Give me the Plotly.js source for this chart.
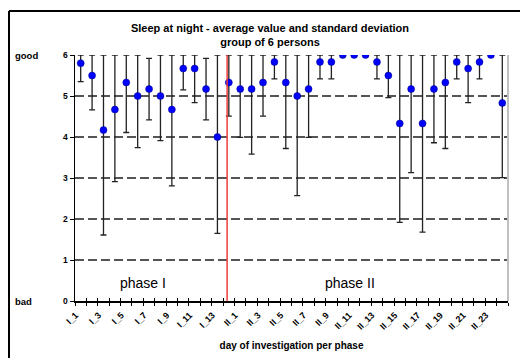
<!DOCTYPE html>
<html><head><meta charset="utf-8">
<script src="https://cdn.plot.ly/plotly-3.0.1.min.js"></script>
<style>html,body{margin:0;padding:0;background:#fff}#chart{width:520px;height:358px}</style>
</head><body><div id="chart"></div>
<script>
// ---- data ----
const categories = ['I_1','I_2','I_3','I_4','I_5','I_6','I_7','I_8','I_9','I_10','I_11','I_12','I_13','I_14',
  'II_1','II_2','II_3','II_4','II_5','II_6','II_7','II_8','II_9','II_10','II_11','II_12','II_13','II_14',
  'II_15','II_16','II_17','II_18','II_19','II_20','II_21','II_22','II_23','II_24'];
const means = [5.8, 5.5, 4.17, 4.67, 5.33, 5.0, 5.17, 5.0, 4.67, 5.67, 5.67, 5.17, 4.0, 5.33,
  5.17, 5.17, 5.33, 5.83, 5.33, 5.0, 5.17, 5.83, 5.83, 6, 6, 6, 5.83, 5.5,
  4.33, 5.17, 4.33, 5.17, 5.33, 5.83, 5.67, 5.83, 6, 4.83];
const stdDevs = [0.45, 0.84, 2.56, 1.76, 1.22, 1.26, 0.75, 1.09, 1.86, 0.52, 0.83, 0.75, 2.35, 0.82,
  1.18, 1.59, 0.82, 0.41, 1.61, 2.43, 1.18, 0.41, 0.41, 0, 0, 0, 0.41, 0.54,
  2.41, 2.04, 2.65, 1.31, 1.61, 0.41, 0.83, 0.41, 0, 1.82];
const yTickVals = [0, 1, 2, 3, 4, 5, 6];
const yTickText = ['0', '1', '2', '3', '4', '5', '6'];
const scaleLabels = {bad: 0, good: 6};
const phaseLabels = ['phase I', 'phase II'];
const phaseStartCategory = 'I_14';
const yMax = 6;

// ---- derived ----
const tickText = categories.map((c, i) => (i % 2 === 0 ? c : ''));
const errPlus = stdDevs.map((s, i) => Math.min(s, yMax - means[i]));
const FONT = 'Arial, "Liberation Sans", sans-serif';

const traces = [
  {
    x: categories, y: means, type: 'scatter', mode: 'markers',
    marker: {color: '#0000ff', size: 7, line: {color: '#000080', width: 0.5}},
    error_y: {type: 'data', symmetric: false, array: errPlus, arrayminus: stdDevs,
      color: '#222', thickness: 1.3, width: 3},
    showlegend: false, hoverinfo: 'x+y'
  },
  {
    x: categories, y: means, xaxis: 'x2', yaxis: 'y', type: 'scatter', mode: 'none',
    showlegend: false, hoverinfo: 'skip'
  }
];

const L = 75, R = 12, T = 55, B = 57, W = 520, H = 358;
const pw = W - L - R, ph = H - T - B;
const px = v => (v - L) / pw;          // pixel -> paper x
const py = v => (H - B - v) / ph;      // pixel -> paper y
const boundaryX = categories.indexOf(phaseStartCategory) - 0.15;

const layout = {
  width: W, height: H,
  margin: {l: L, r: R, t: T, b: B},
  paper_bgcolor: '#fff', plot_bgcolor: '#fff',
  font: {family: FONT, color: '#000'},
  title: {
    text: 'Sleep at night - average value and standard deviation<br>group of 6 persons',
    font: {family: FONT, size: 11, weight: 'bold', color: '#000'},
    xref: 'container', x: 270 / W, xanchor: 'center',
    yref: 'container', y: 1 - 32 / H, yanchor: 'top'
  },
  xaxis: {
    type: 'category', range: [-0.5, categories.length - 0.5],
    tickvals: categories, ticktext: tickText, tickangle: -45,
    tickson: 'boundaries', ticks: 'outside', ticklen: 3, tickcolor: '#000', tickwidth: 1,
    ticklabelstandoff: 4, ticklabelshift: -5,
    tickfont: {family: FONT, size: 9, weight: 'bold', color: '#000'},
    showline: true, linecolor: '#000', linewidth: 1.5, showgrid: false, zeroline: false,
    automargin: false,
    title: {text: 'day of investigation per phase', standoff: 11,
      font: {family: FONT, size: 10, weight: 'bold', color: '#000'}}
  },
  xaxis2: {
    type: 'category', overlaying: 'x', matches: 'x', anchor: 'y', side: 'bottom',
    tickvals: categories, ticktext: categories.map(() => ''),
    tickson: 'boundaries', ticks: 'inside', ticklen: 3, tickcolor: '#000', tickwidth: 1,
    showticklabels: false, showline: false, showgrid: false, zeroline: false
  },
  yaxis: {
    range: [0, yMax], tickvals: yTickVals, ticktext: yTickText,
    ticks: 'outside', ticklen: 4, tickcolor: '#000',
    tickfont: {family: FONT, size: 8.5, weight: 'bold', color: '#000'},
    showline: true, linecolor: '#000', linewidth: 1.5,
    showgrid: true, gridcolor: '#555', gridwidth: 1.5, griddash: '9px,4px',
    zeroline: false, automargin: false, fixedrange: true
  },
  shapes: [
    {type: 'line', xref: 'x', yref: 'y', x0: boundaryX, x1: boundaryX, y0: -0.08, y1: yMax,
      line: {color: '#f03c3c', width: 1.5}, layer: 'above'},
    {type: 'line', xref: 'paper', yref: 'paper', x0: 1, x1: 1, y0: 0, y1: 1,
      line: {color: '#c0c0c0', width: 2}},
    {type: 'line', xref: 'paper', yref: 'paper', x0: px(9), x1: px(9), y0: py(11), y1: py(362),
      line: {color: '#000', width: 2}},
    {type: 'line', xref: 'paper', yref: 'paper', x0: px(9), x1: px(524), y0: py(11), y1: py(11),
      line: {color: '#000', width: 2}}
  ],
  annotations: [
    {text: 'good', xref: 'paper', x: px(13), xanchor: 'left', yref: 'y', y: scaleLabels.good,
      yanchor: 'middle', showarrow: false, font: {family: FONT, size: 9.5, weight: 'bold'}},
    {text: 'bad', xref: 'paper', x: px(13), xanchor: 'left', yref: 'y', y: scaleLabels.bad,
      yanchor: 'middle', showarrow: false, font: {family: FONT, size: 9.5, weight: 'bold'}},
    {text: phaseLabels[0], xref: 'paper', x: px(143), xanchor: 'center', yref: 'paper', y: py(283),
      yanchor: 'middle', showarrow: false, font: {family: FONT, size: 14, color: '#000'}},
    {text: phaseLabels[1], xref: 'paper', x: px(350), xanchor: 'center', yref: 'paper', y: py(283),
      yanchor: 'middle', showarrow: false, font: {family: FONT, size: 14, color: '#000'}}
  ]
};

Plotly.newPlot('chart', traces, layout, {displayModeBar: false, staticPlot: true});
</script>
</body></html>
